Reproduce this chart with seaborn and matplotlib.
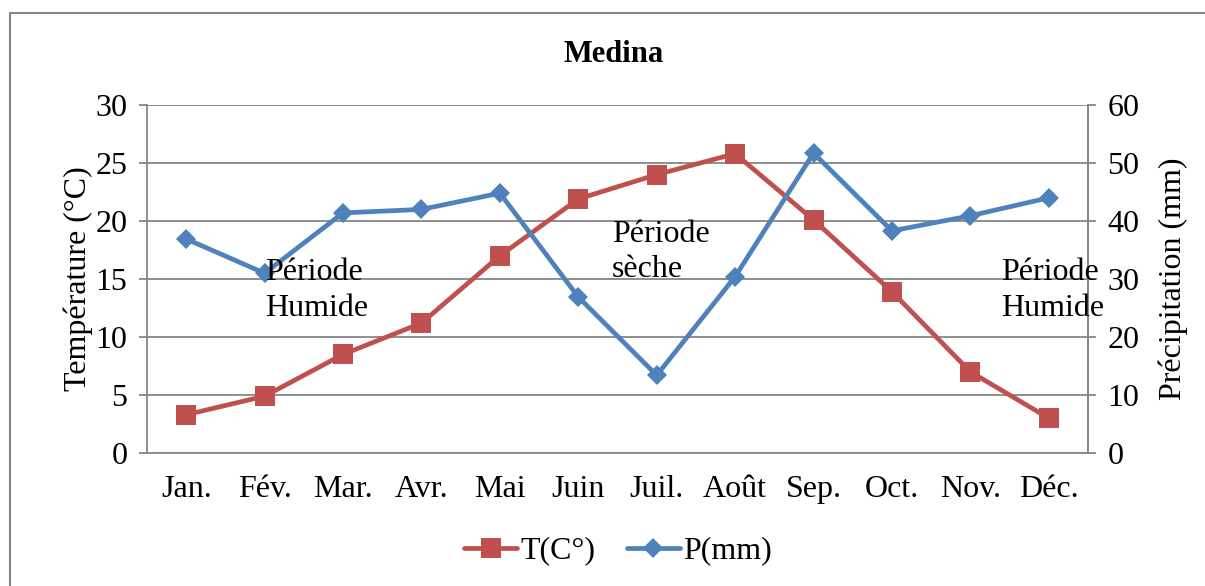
import numpy as np
import pandas as pd
import seaborn as sns
import matplotlib.pyplot as plt
from matplotlib.patches import Rectangle

# =============================================================================
# Data
# =============================================================================
months = ['Jan.', 'Fév.', 'Mar.', 'Avr.', 'Mai', 'Juin', 'Juil.', 'Août',
          'Sep.', 'Oct.', 'Nov.', 'Déc.']
temp_c = [3.3, 4.9, 8.5, 11.2, 17.0, 21.9, 24.0, 25.8, 20.1, 13.9, 7.0, 3.0]
precip_mm = [36.9, 31.0, 41.4, 42.0, 44.8, 26.9, 13.4, 30.4, 51.7, 38.3, 40.9, 44.0]

left_ticks = [0, 5, 10, 15, 20, 25, 30]
right_ticks = [0, 10, 20, 30, 40, 50, 60]

# (x in month index, y in °C, text)
period_notes = [(1.0, 16.8, 'Période\nHumide'),
                (5.43, 20.1, 'Période\nsèche'),
                (10.39, 16.8, 'Période\nHumide')]

df = pd.DataFrame({'Mois': months, 'T': temp_c, 'P': precip_mm})

# =============================================================================
# Plotting
# =============================================================================
sns.set_theme(style='white')
plt.rcParams['font.family'] = ['Liberation Serif', 'DejaVu Serif']
plt.rcParams['text.color'] = 'black'
plt.rcParams['axes.labelcolor'] = 'black'

red = '#C0504D'
blue = '#4F81BD'
grey = '#868686'
fs = 23

fig = plt.figure(figsize=(12.05, 5.86), dpi=100)
ax = fig.add_axes([147/1205, 1 - 453/586, (1088 - 147)/1205, (453 - 105)/586])
ax2 = ax.twinx()

sns.lineplot(data=df, x='Mois', y='T', ax=ax, color=red, lw=3.4,
             marker='s', markersize=14, markeredgewidth=0, sort=False,
             legend=False)
sns.lineplot(data=df, x='Mois', y='P', ax=ax2, color=blue, lw=3.4,
             marker='D', markersize=10.5, markeredgewidth=0, sort=False,
             legend=False)

# axes limits and ticks
ax.set_xlim(-0.5, len(months) - 0.5)
ax.set_ylim(0, 30)
ax2.set_ylim(0, 60)
ax.set_yticks(left_ticks)
ax2.set_yticks(right_ticks)
ax.set_xticks(range(len(months)))
ax.set_xticklabels(months)
ax.set_xticks(np.arange(-0.5, len(months)), minor=True)

ax.tick_params(axis='x', which='major', length=0, pad=16, labelsize=fs, colors='black')
ax.tick_params(axis='x', which='minor', length=10, width=1.3, color=grey, direction='out')
ax.tick_params(axis='y', length=6, width=1.3, color=grey, pad=8, labelsize=fs,
               labelcolor='black', direction='out', left=True)
ax2.tick_params(axis='y', length=6, width=1.3, color=grey, pad=8, labelsize=fs,
                labelcolor='black', direction='out', right=True)

ax.grid(True, axis='y', color=grey, lw=1.3)
ax.set_xlabel('')
ax.set_ylabel('Température (°C)', fontsize=fs, labelpad=2)
ax2.set_ylabel('Précipitation (mm)', fontsize=fs, labelpad=14)

for a in (ax, ax2):
    a.spines['top'].set_visible(False)
    for s in ('left', 'right', 'bottom'):
        a.spines[s].set_color(grey)
        a.spines[s].set_linewidth(1.3)
ax2.spines['left'].set_visible(False)
ax2.spines['bottom'].set_visible(False)

# period annotations drawn above both lines
for x, y, txt in period_notes:
    ax2.text(x, y, txt, transform=ax.transData, fontsize=fs, ha='left', va='top',
             linespacing=1.3, zorder=10, clip_on=False)

fig.suptitle('Medina', x=614/1205, y=1 - 54/586, va='center',
             fontsize=22, fontweight='bold', color='black')

# legend
handles = [ax.lines[0], ax2.lines[0]]
fig.legend(handles, ['T(C°)', 'P(mm)'], loc='center', ncol=2, frameon=False,
           bbox_to_anchor=(618/1205, 1 - 551/586), fontsize=fs,
           handlelength=1.65, handletextpad=0.1, columnspacing=1.0)

# chart frame
fig.patches.append(Rectangle((10/1205, -0.05), 1.2, 1.05 - 13/586,
                             transform=fig.transFigure, fill=False,
                             edgecolor=grey, lw=1.5))

fig.savefig('out.png', dpi=100)
